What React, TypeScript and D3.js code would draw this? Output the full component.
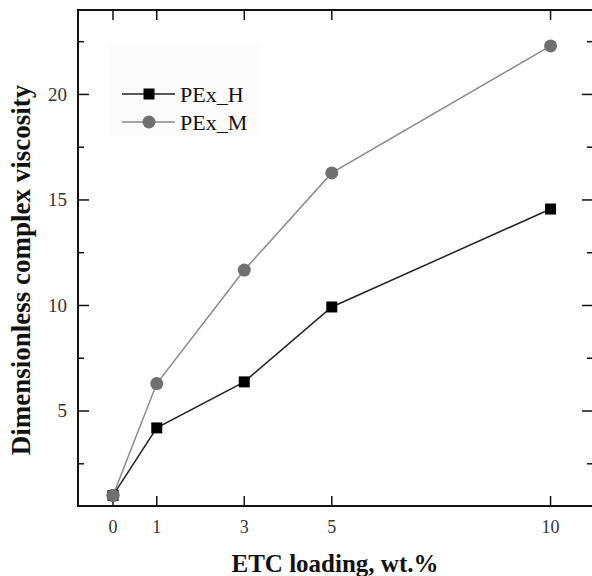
import React from "react";
import * as d3 from "d3";

const loadings = [0, 1, 3, 5, 10];
const pexH = [1.0, 4.2, 6.38, 9.93, 14.57];
const pexM = [1.0, 6.3, 11.68, 16.28, 22.3];
const xTicks = [0, 1, 3, 5, 10];
const yMajor = [5, 10, 15, 20];
const yMinor = [2.5, 7.5, 12.5, 17.5, 22.5];

const W = 592, H = 576;
const L = 78, R = 593, T = 10, B = 506;
const font = "'Liberation Serif', 'Times New Roman', serif";

export default function App() {
  const x = d3.scaleLinear().domain([-0.8, 10.97]).range([L, R]);
  const y = d3.scaleLinear().domain([0.5, 24]).range([B, T]);
  const line = d3.line<number>().x((_, i) => x(loadings[i])).y((d) => y(d));
  return (
    <svg width={W} height={H} style={{ position: "absolute", left: 0, top: 0, background: "#fff" }}>
      <rect x={0} y={0} width={W} height={H} fill="#fff" />
      {/* legend background */}
      <rect x={110} y={45} width={150} height={92} fill="#fbfbfb" />
      {/* frame */}
      <rect x={L} y={T} width={R - L} height={B - T} fill="none" stroke="#111" strokeWidth={2} />
      {/* y ticks */}
      {yMajor.map((v) => (
        <g key={"ym" + v}>
          <line x1={L} x2={L + 11} y1={y(v)} y2={y(v)} stroke="#111" strokeWidth={1.5} />
          <line x1={R} x2={R - 11} y1={y(v)} y2={y(v)} stroke="#111" strokeWidth={1.5} />
          <text x={L - 11} y={y(v)} dy="0.33em" textAnchor="end" fontFamily={font} fontSize={19} fill="#333">{v}</text>
        </g>
      ))}
      {yMinor.map((v) => (
        <g key={"yn" + v}>
          <line x1={L} x2={L + 6} y1={y(v)} y2={y(v)} stroke="#111" strokeWidth={1.5} />
          <line x1={R} x2={R - 6} y1={y(v)} y2={y(v)} stroke="#111" strokeWidth={1.5} />
        </g>
      ))}
      {/* x ticks */}
      {xTicks.map((v) => (
        <g key={"x" + v}>
          <line x1={x(v)} x2={x(v)} y1={B} y2={B - 10} stroke="#111" strokeWidth={1.5} />
          <line x1={x(v)} x2={x(v)} y1={T} y2={T + 10} stroke="#111" strokeWidth={1.5} />
          <text x={x(v)} y={B + 27} textAnchor="middle" fontFamily={font} fontSize={18} fill="#333">{v}</text>
        </g>
      ))}
      {/* series M */}
      <path d={line(pexM) || ""} fill="none" stroke="#8a8a8a" strokeWidth={1.5} />
      {pexM.map((v, i) => (
        <circle key={"m" + i} cx={x(loadings[i])} cy={y(v)} r={6.5} fill="#707070" />
      ))}
      {/* series H */}
      <path d={line(pexH) || ""} fill="none" stroke="#222" strokeWidth={1.5} />
      {pexH.map((v, i) => (
        <rect key={"h" + i} x={x(loadings[i]) - 5.5} y={y(v) - 5.5} width={11} height={11} fill="#000" />
      ))}
      <circle cx={x(loadings[0])} cy={y(pexM[0])} r={6.5} fill="#707070" />
      {/* legend */}
      <line x1={122} x2={175} y1={94} y2={94} stroke="#222" strokeWidth={1.5} />
      <rect x={143.5} y={88.5} width={11} height={11} fill="#000" />
      <text x={180} y={94} dy="0.35em" fontFamily={font} fontSize={22} fill="#111">PEx_H</text>
      <line x1={122} x2={175} y1={122} y2={122} stroke="#8a8a8a" strokeWidth={1.5} />
      <circle cx={149} cy={122} r={6.5} fill="#707070" />
      <text x={180} y={122} dy="0.35em" fontFamily={font} fontSize={22} fill="#111">PEx_M</text>
      {/* axis titles */}
      <text x={335} y={572} textAnchor="middle" fontFamily={font} fontSize={25} fontWeight="bold" fill="#111">ETC loading, wt.%</text>
      <text transform="translate(30,270) rotate(-90)" textAnchor="middle" fontFamily={font} fontSize={27} fontWeight="bold" fill="#111">Dimensionless complex viscosity</text>
    </svg>
  );
}
